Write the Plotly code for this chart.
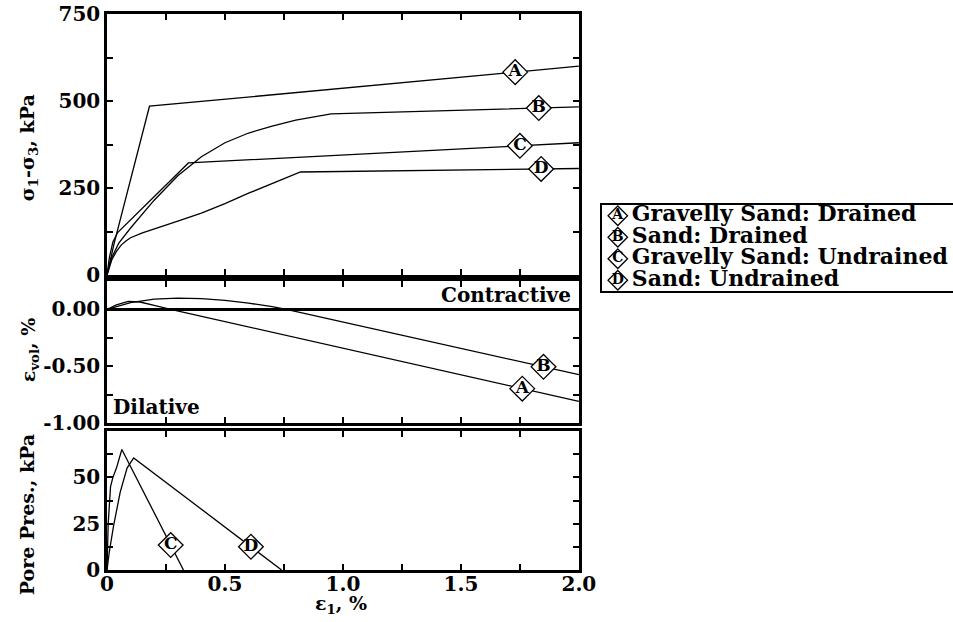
import numpy as np
import plotly.graph_objects as go

# ---------------- data ----------------
# Top panel: deviator stress sigma1-sigma3 (kPa) vs axial strain (%)
A_dev_x = [0, 0.03, 0.18, 2.0]
A_dev_y = [0, 90, 485, 600]
B_dev_x = [0, 0.02, 0.05, 0.1, 0.2, 0.3, 0.4, 0.5, 0.6, 0.7, 0.8, 0.95, 2.0]
B_dev_y = [0, 50, 92, 135, 215, 285, 340, 380, 408, 428, 445, 463, 483]
C_dev_x = [0, 0.01, 0.025, 0.045, 0.345, 2.0]
C_dev_y = [0, 50, 95, 122, 322, 380]
D_dev_x = [0, 0.01, 0.02, 0.04, 0.06, 0.08, 0.1, 0.15, 0.2, 0.3, 0.4, 0.5, 0.6, 0.7, 0.82, 2.0]
D_dev_y = [0, 25, 43, 68, 86, 98, 107, 121, 133, 155, 178, 205, 235, 263, 296, 306]

# Middle panel: volumetric strain (%) for drained tests
A_vol_x = [0, 0.04, 0.09, 0.14, 0.2, 0.27, 2.0]
A_vol_y = [0, 0.04, 0.07, 0.065, 0.035, 0.0, -0.81]
B_vol_x = [0, 0.05, 0.1, 0.2, 0.3, 0.4, 0.5, 0.6, 0.7, 0.76, 2.0]
B_vol_y = [0, 0.03, 0.06, 0.09, 0.1, 0.095, 0.08, 0.055, 0.025, 0.0, -0.575]

# Bottom panel: pore pressure (kPa) for undrained tests
C_pp_x = [0, 0.005, 0.015, 0.025, 0.04, 0.063, 0.324]
C_pp_y = [0, 25, 45, 50, 55, 65, 0]
D_pp_x = [0, 0.01, 0.028, 0.056, 0.085, 0.113, 0.74]
D_pp_y = [0, 10, 24, 42, 55, 60.5, 0]

# label positions (strain at which the lettered diamond sits)
top_tag_x = {"A": 1.73, "B": 1.83, "C": 1.75, "D": 1.84}
mid_tag_x = {"A": 1.76, "B": 1.85}
bot_tag_x = {"C": 0.27, "D": 0.61}

legend_letters = ["A", "B", "C", "D"]
legend_names = ["Gravelly Sand: Drained", "Sand: Drained",
                "Gravelly Sand: Undrained", "Sand: Undrained"]

x_ticks = [0, 0.5, 1.0, 1.5, 2.0]
x_ticktext = ["0", "0.5", "1.0", "1.5", "2.0"]
top_ticks = [0, 250, 500, 750]
mid_ticks = [0.0, -0.5, -1.0]
mid_ticktext = ["0.00", "-0.50", "-1.00"]
bot_ticks = [0, 25, 50]

# ---------------- figure ----------------
FONT = "DejaVu Serif"
fig = go.Figure()

def add_line(x, y, xa, ya):
    fig.add_trace(go.Scatter(x=x, y=y, mode="lines",
                             line=dict(color="black", width=1.3),
                             xaxis=xa, yaxis=ya, showlegend=False,
                             hoverinfo="skip"))

def add_tag(letter, x_at, xs, ys, xa, ya, size=19, fsize=17):
    y_at = float(np.interp(x_at, xs, ys))
    fig.add_trace(go.Scatter(x=[x_at], y=[y_at], mode="markers+text",
                             marker=dict(symbol="diamond", size=size, color="white",
                                         line=dict(color="black", width=1.3)),
                             text=[letter], textposition="middle center",
                             textfont=dict(family=FONT, size=fsize, color="black",
                                           weight="bold"),
                             xaxis=xa, yaxis=ya, showlegend=False,
                             hoverinfo="skip", cliponaxis=False))

# top panel (x3/y3)
add_line(A_dev_x, A_dev_y, "x3", "y3")
add_line(B_dev_x, B_dev_y, "x3", "y3")
add_line(C_dev_x, C_dev_y, "x3", "y3")
add_line(D_dev_x, D_dev_y, "x3", "y3")
add_tag("A", top_tag_x["A"], A_dev_x, A_dev_y, "x3", "y3")
add_tag("B", top_tag_x["B"], B_dev_x, B_dev_y, "x3", "y3")
add_tag("C", top_tag_x["C"], C_dev_x, C_dev_y, "x3", "y3")
add_tag("D", top_tag_x["D"], D_dev_x, D_dev_y, "x3", "y3")

# middle panel (x2/y2)
add_line(A_vol_x, A_vol_y, "x2", "y2")
add_line(B_vol_x, B_vol_y, "x2", "y2")
add_tag("A", mid_tag_x["A"], A_vol_x, A_vol_y, "x2", "y2")
add_tag("B", mid_tag_x["B"], B_vol_x, B_vol_y, "x2", "y2")

# bottom panel (x/y)
add_line(C_pp_x, C_pp_y, "x", "y")
add_line(D_pp_x, D_pp_y, "x", "y")
add_tag("C", bot_tag_x["C"], C_pp_x, C_pp_y, "x", "y")
add_tag("D", bot_tag_x["D"], D_pp_x, D_pp_y, "x", "y")

# legend drawn on its own small axis (x4/y4)
n = len(legend_letters)
rows = [n - 1 - i + 0.5 for i in range(n)]
fig.add_trace(go.Scatter(x=[16] * n, y=rows, mode="markers+text",
                         marker=dict(symbol="diamond", size=15, color="white",
                                     line=dict(color="black", width=1.3)),
                         text=legend_letters, textposition="middle center",
                         textfont=dict(family=FONT, size=14, color="black", weight="bold"),
                         xaxis="x4", yaxis="y4", showlegend=False, hoverinfo="skip",
                         cliponaxis=False))
fig.add_trace(go.Scatter(x=[30] * n, y=rows, mode="text",
                         text=legend_names, textposition="middle right",
                         textfont=dict(family=FONT, size=22, color="black", weight="bold"),
                         xaxis="x4", yaxis="y4", showlegend=False, hoverinfo="skip",
                         cliponaxis=False))

# ---------------- layout ----------------
# Target positions are given in window pixels of the 953x622 picture; the page
# is captured slightly compressed horizontally, so x is laid out on a 970 base.
K = 970 / 953
W, H = 970, 622
ML, MR, MT = 105 * K, 0, 14
MB = H - 570
PW, PH = W - ML - MR, H - MT - MB

def px_x(s):
    return (s * K - ML) / PW

def px_y(s):
    return (H - MB - s) / PH

x_dom = [0, px_x(578)]
tickfont = dict(family=FONT, size=20, color="black", weight="bold")

def ax_common():
    return dict(showline=True, linecolor="black", linewidth=2.5, mirror="ticks",
                ticks="inside", ticklen=6, tickwidth=2, tickcolor="black",
                showgrid=False, zeroline=False, tickfont=tickfont,
                ticklabeloverflow="allow")

minor_style = dict(ticks="inside", ticklen=6, tickwidth=2, tickcolor="black")

xb = ax_common()
xb.update(domain=x_dom, range=[0, 2.0], tickvals=x_ticks, ticktext=x_ticktext,
          minor=dict(dtick=0.25, **minor_style), ticklabelstandoff=-6, anchor="y")
xm = ax_common()
xm.update(domain=x_dom, range=[0, 2.0], dtick=0.25, tick0=0, showticklabels=False,
          anchor="y2", matches="x")
xt = ax_common()
xt.update(domain=x_dom, range=[0, 2.0], dtick=0.25, tick0=0, showticklabels=False,
          anchor="y3", matches="x")

yt = ax_common()
yt.update(domain=[px_y(275), px_y(14)], range=[0, 750], tickvals=top_ticks,
          minor=dict(dtick=125, tick0=0, **minor_style), anchor="x3")
ym = ax_common()
ym.update(domain=[px_y(423), px_y(281)], range=[-1.0, 0.25], tickvals=mid_ticks,
          ticktext=mid_ticktext, minor=dict(dtick=0.25, tick0=0, **minor_style),
          zeroline=True, zerolinecolor="black", zerolinewidth=2.5, anchor="x2")
yb = ax_common()
yb.update(domain=[0, px_y(431)], range=[0, 75], tickvals=bot_ticks,
          minor=dict(dtick=12.5, tick0=0, **minor_style), anchor="x")

x4 = dict(domain=[px_x(601), px_x(953)], range=[0, 352], showline=True, mirror=True,
          linecolor="black", linewidth=1.5, showticklabels=False, ticks="",
          showgrid=False, zeroline=False, fixedrange=True, anchor="y4")
y4 = dict(domain=[px_y(291), px_y(205)], range=[0, n], showline=True, mirror=True,
          linecolor="black", linewidth=1.5, showticklabels=False, ticks="",
          showgrid=False, zeroline=False, fixedrange=True, anchor="x4")

title_font = dict(family=FONT, size=19, color="black", weight="bold")
annotations = [
    dict(text="σ<sub>1</sub>-σ<sub>3</sub>, kPa", x=px_x(27), y=px_y(148), xref="paper",
         yref="paper", textangle=-90, showarrow=False, font=title_font,
         xanchor="center", yanchor="middle"),
    dict(text="ε<sub>vol</sub>, %", x=px_x(27), y=px_y(350), xref="paper",
         yref="paper", textangle=-90, showarrow=False, font=title_font,
         xanchor="center", yanchor="middle"),
    dict(text="Pore Pres., kPa", x=px_x(25), y=px_y(515), xref="paper",
         yref="paper", textangle=-90, showarrow=False, font=title_font,
         xanchor="center", yanchor="middle"),
    dict(text="ε<sub>1</sub>, %", x=px_x(340), y=px_y(604), xref="paper",
         yref="paper", showarrow=False, font=title_font,
         xanchor="center", yanchor="middle"),
    dict(text="Contractive", x=0.988, y=0.9, xref="x2 domain", yref="y2 domain",
         showarrow=False, font=dict(family=FONT, size=20, color="black", weight="bold"),
         xanchor="right", yanchor="middle"),
    dict(text="Dilative", x=0.008, y=0.11, xref="x2 domain", yref="y2 domain",
         showarrow=False, font=dict(family=FONT, size=20, color="black", weight="bold"),
         xanchor="left", yanchor="middle"),
]

fig.update_layout(
    width=W, height=H, autosize=False,
    margin=dict(l=ML, r=MR, t=MT, b=MB, pad=0),
    paper_bgcolor="white", plot_bgcolor="white",
    showlegend=False,
    xaxis=xb, xaxis2=xm, xaxis3=xt, xaxis4=x4,
    yaxis=yb, yaxis2=ym, yaxis3=yt, yaxis4=y4,
    annotations=annotations,
    font=dict(family=FONT, color="black"),
)

# remove the default 8px page margin so the figure fills the window exactly
fig.write_html("out.html", config={"displayModeBar": False},
               post_script="document.body.style.margin='0px';")
